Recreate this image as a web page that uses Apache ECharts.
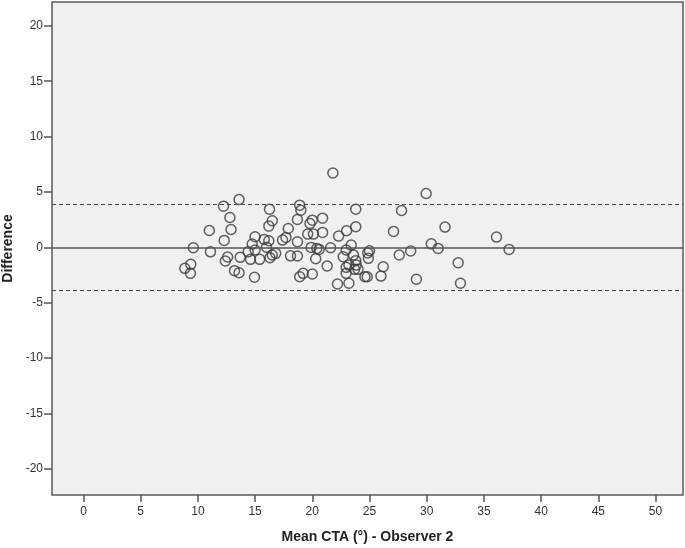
<!DOCTYPE html>
<html>
<head>
<meta charset="utf-8">
<script src="https://cdn.jsdelivr.net/npm/echarts@6/dist/echarts.min.js"></script>
<style>
html,body{margin:0;padding:0;background:#fff;}
#c{width:685px;height:548px;}
</style>
</head>
<body>
<div id="c"></div>
<script>
// Mean CTA (x) and difference (y)
var meanVals = [12.24,13.6,12.8,11.0,12.9,12.3,9.6,11.1,12.6,12.4,13.7,8.86,9.38,9.35,13.2,13.6,
  21.8,16.26,18.9,19.0,23.8,16.5,16.2,18.7,19.8,20.0,20.9,17.9,19.6,20.1,20.9,23.0,23.8,22.3,
  17.4,17.7,15.0,15.8,16.2,14.75,18.7,23.4,19.9,20.4,20.6,21.6,22.96,25.0,24.85,14.4,15.0,
  14.6,15.4,16.3,16.5,16.8,18.1,18.7,20.3,22.7,23.6,23.8,24.9,21.3,22.96,23.2,23.7,24.0,
  14.95,18.9,19.2,20.0,22.96,24.6,24.8,26.0,26.2,22.2,23.2,16.0,
  29.95,27.8,27.1,31.6,36.1,30.4,31.0,37.2,28.6,27.6,29.1,32.75,32.95,23.84];
var diffVals = [3.72,4.32,2.7,1.53,1.62,0.63,-0.03,-0.4,-0.87,-1.23,-0.9,-1.89,-1.53,-2.34,-2.1,-2.29,
  6.72,3.45,3.81,3.36,3.45,2.4,1.92,2.52,2.16,2.46,2.64,1.71,1.2,1.2,1.35,1.5,1.86,1.02,
  0.66,0.9,0.96,0.72,0.6,0.3,0.51,0.21,0.0,-0.09,-0.18,-0.03,-0.24,-0.3,-0.5,-0.4,-0.24,
  -1.08,-1.08,-0.94,-0.69,-0.54,-0.76,-0.78,-1.03,-0.85,-0.69,-1.2,-0.99,-1.68,-1.8,-1.6,-1.98,-1.98,
  -2.7,-2.65,-2.34,-2.4,-2.34,-2.65,-2.65,-2.59,-1.75,-3.3,-3.24,0.02,
  4.86,3.33,1.44,1.83,0.93,0.32,-0.09,-0.18,-0.33,-0.69,-2.88,-1.39,-3.24,-1.6];
var meanDiff = 0.0;
var upperLoA = 3.9;
var lowerLoA = -3.9;
var xTicks = [0,5,10,15,20,25,30,35,40,45,50];
var yTicks = [-20,-15,-10,-5,0,5,10,15,20];

var pts = meanVals.map(function(v,i){return [v, diffVals[i]];});
var font = '"Liberation Sans", Arial, sans-serif';
var chart = echarts.init(document.getElementById('c'), null, {renderer:'canvas'});
chart.setOption({
  animation:false,
  backgroundColor:'#ffffff',
  grid:{left:52,right:2,top:2,bottom:53,show:true,backgroundColor:'#f0f0f0',borderColor:'#5a5a5a',borderWidth:1.5,
        containLabel:false,outerBoundsMode:'none'},
  xAxis:{
    type:'value',min:-2.75,max:52.4,
    name:'Mean CTA (°) - Observer 2',nameLocation:'middle',nameGap:35,
    nameTextStyle:{fontFamily:font,fontWeight:'bold',fontSize:14,color:'#222'},
    axisLine:{show:false,onZero:false},
    splitLine:{show:false},
    axisTick:{show:true,customValues:xTicks,length:7,lineStyle:{color:'#555',width:1.5}},
    axisLabel:{customValues:xTicks,color:'#333',fontSize:12,fontFamily:font,margin:11}
  },
  yAxis:{
    type:'value',min:-22.35,max:22.15,
    name:'Difference',nameLocation:'middle',nameGap:37,nameRotate:90,
    nameTextStyle:{fontFamily:font,fontWeight:'bold',fontSize:14,color:'#222'},
    axisLine:{show:false,onZero:false},
    splitLine:{show:false},
    axisTick:{show:true,customValues:yTicks,length:8,lineStyle:{color:'#555',width:1.5}},
    axisLabel:{customValues:yTicks,color:'#333',fontSize:12,fontFamily:font,margin:9}
  },
  series:[{
    type:'scatter',
    data:pts,
    symbol:'circle',
    symbolSize:10,
    itemStyle:{color:'rgba(0,0,0,0)',borderColor:'#3a3a3a',borderWidth:1.5},
    markLine:{
      silent:true,symbol:['none','none'],label:{show:false},
      data:[
        {yAxis:meanDiff,lineStyle:{type:'solid',color:'#555',width:1.5}},
        {yAxis:upperLoA,lineStyle:{type:[4,3],color:'#444',width:1}},
        {yAxis:lowerLoA,lineStyle:{type:[4,3],color:'#444',width:1}}
      ]
    }
  }]
});
</script>
</body>
</html>
